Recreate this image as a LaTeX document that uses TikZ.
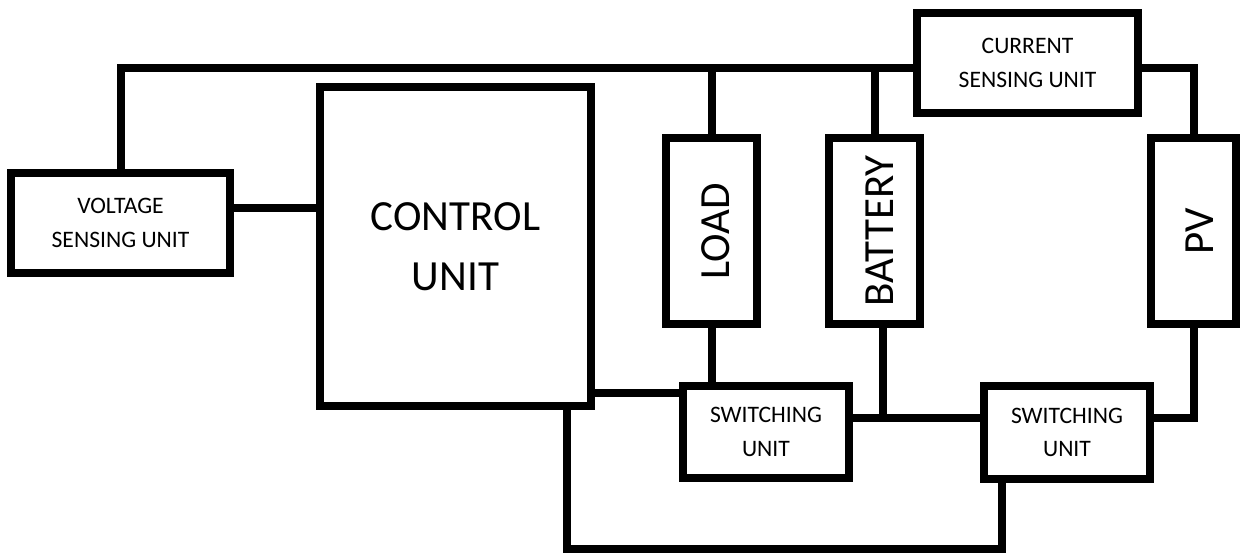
\documentclass[tikz,border=0pt]{standalone}
\usepackage{fontspec}
\setmainfont{Carlito}
\usetikzlibrary{calc}
\begin{document}
\begin{tikzpicture}[x=0.5pt,y=-0.5pt,
  blk/.style={draw=black,line width=4pt,inner sep=0pt,outer sep=0pt,align=center,fill=white},
  small/.style={font=\fontsize{11.8}{16.8}\selectfont},
  big/.style={font=\fontsize{21.5}{30}\selectfont},
  wire/.style={line width=4pt,line join=miter,line cap=rect}]
\useasboundingbox (0,0) rectangle (1243,554);
\coordinate (topbus) at (0,68);
\coordinate (midbus) at (0,418);
\coordinate (botbus) at (0,549);
\node[blk,small,minimum width=109.5pt,minimum height=50pt] (volt) at (120.5,223) {VOLTAGE\\SENSING UNIT};
\node[blk,big,minimum width=135.5pt,minimum height=159.5pt] (ctrl) at (455.5,246.5) {CONTROL\\UNIT};
\node[blk,big,minimum width=45.5pt,minimum height=93pt] (load) at (711.5,231) {\hspace*{4pt}\rotatebox{90}{LOAD}};
\node[blk,big,minimum width=45.5pt,minimum height=93pt] (batt) at (874.5,231) {\hspace*{5pt}\rotatebox{90}{BATTERY}};
\node[blk,big,minimum width=42.5pt,minimum height=93pt] (pv) at (1193.5,231) {\hspace*{6pt}\rotatebox{90}{PV}};
\node[blk,small,minimum width=110.5pt,minimum height=50pt] (cur) at (1027.5,63) {CURRENT\\SENSING UNIT};
\node[blk,small,minimum width=83pt,minimum height=46pt] (sw1) at (766,432) {SWITCHING\\UNIT};
\node[blk,small,minimum width=83pt,minimum height=46.5pt] (sw2) at (1067,432.5) {SWITCHING\\UNIT};
\coordinate (sw1l) at ($(sw1.north west)+(0,7)$);
\coordinate (battb) at ($(batt.south)+(8.5,0)$);
\coordinate (cb) at ($(ctrl.south east)+(-24,0)$);
\coordinate (sw2b) at ($(sw2.south west)+(18,0)$);
\draw[wire] (volt.north) |- (cur.west |- topbus);
\draw[wire] (load.north) -- (load.north |- topbus);
\draw[wire] (batt.north) -- (batt.north |- topbus);
\draw[wire] (cur.east |- topbus) -| (pv.north);
\draw[wire] (volt.east |- 0,208) -- (ctrl.west |- 0,208);
\draw[wire] (load.south) -- (load.south |- sw1.north);
\draw[wire] (ctrl.east |- sw1l) -- (sw1l);
\draw[wire] (battb) -- (battb |- midbus);
\draw[wire] (sw1.east |- midbus) -- (sw2.west |- midbus);
\draw[wire] (sw2.east |- midbus) -| (pv.south);
\draw[wire] (cb) |- (sw2b |- botbus) -- (sw2b);
\end{tikzpicture}
\end{document}
